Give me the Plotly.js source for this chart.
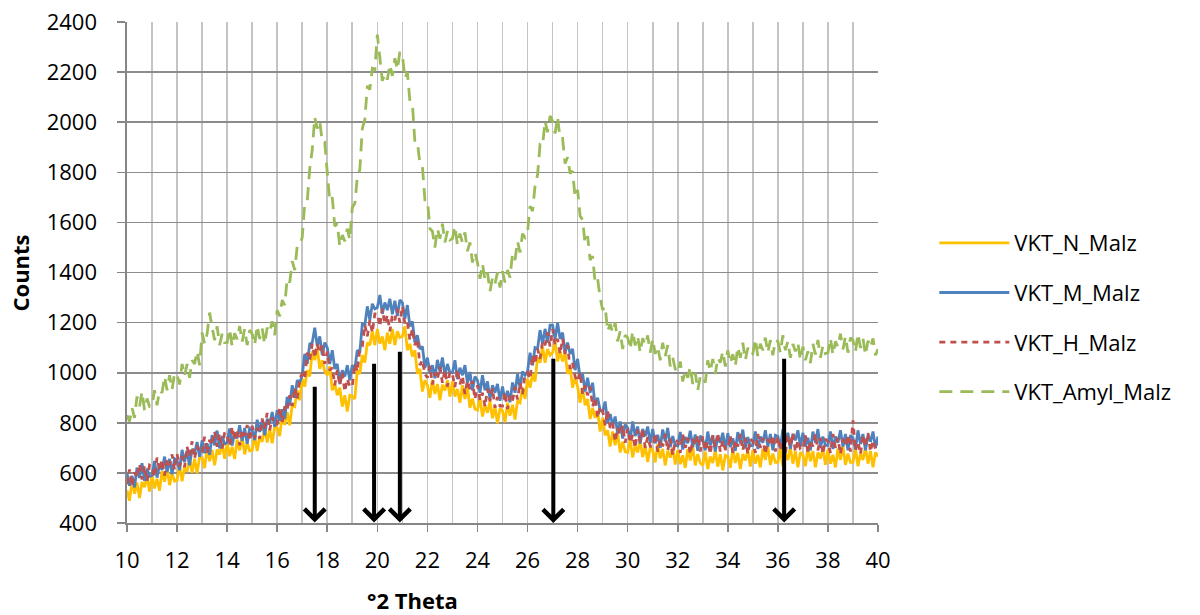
<!DOCTYPE html>
<html>
<head>
<meta charset="utf-8">
<script src="https://cdn.plot.ly/plotly-3.0.1.min.js"></script>
<style>html,body{margin:0;padding:0;background:#fff;}#chart{width:1200px;height:615px;}</style>
</head>
<body>
<div id="chart"></div>
<script>
// 2-theta sampling grid (instrument step)
const thetaStart = 10, thetaStep = 0.1;

const seriesNames = ["VKT_N_Malz", "VKT_M_Malz", "VKT_H_Malz", "VKT_Amyl_Malz"];

const VKT_N_Malz = [
530,489,568,517,561,500,564,543,587,526,
590,538,576,529,607,565,623,551,599,567,
570,631,567,623,604,660,601,657,598,664,
660,619,698,647,691,630,694,673,717,656,
720,667,704,656,733,690,747,674,721,688,
690,751,687,743,724,780,721,777,718,784,
780,747,834,791,843,790,870,865,930,890,
975,945,1010,985,1085,1050,1100,1015,1050,1005,
990,1025,930,955,910,940,865,910,845,910,
905,895,1010,995,1070,1040,1120,1110,1165,1110,
1175,1115,1145,1090,1160,1115,1175,1110,1165,1140,
1145,1185,1090,1115,1065,1090,995,1015,925,970,
950,900,972,915,955,890,952,929,970,905,
965,905,935,880,950,895,943,860,897,855,
850,900,825,870,840,886,818,865,798,857,
847,802,880,828,872,813,888,880,940,895,
975,940,995,965,1060,1040,1105,1040,1095,1070,
1080,1125,1045,1085,1045,1080,995,1025,940,980,
945,880,940,870,895,815,860,820,845,765,
820,750,770,705,765,710,760,682,724,685,
682,735,662,710,682,730,663,710,643,701,
689,642,715,658,696,630,688,661,700,633,
690,635,670,620,695,650,705,630,675,640,
630,685,615,665,640,690,625,675,610,670,
665,620,695,640,680,615,675,650,690,625,
692,637,672,622,697,652,707,632,677,642,
642,697,627,677,652,702,637,687,622,682,
672,627,702,647,687,622,682,657,697,632,
692,637,672,622,697,652,707,632,677,642,
642,697,627,677,652,702,637,687,622,682,
665];

const VKT_M_Malz = [
600,549,588,542,621,580,639,568,617,586,
590,648,581,634,612,665,603,656,594,657,
650,611,692,643,689,630,696,677,723,664,
730,679,718,672,751,710,769,698,747,716,
720,777,709,761,738,790,727,779,716,778,
770,731,812,763,809,750,816,797,843,784,
850,807,854,816,903,870,950,900,970,960,
990,1075,1035,1115,1120,1180,1105,1145,1070,1120,
1100,1035,1090,1015,1035,955,1010,985,1030,970,
1030,1015,1090,1080,1195,1190,1265,1210,1275,1255,
1260,1310,1235,1280,1250,1295,1233,1287,1226,1290,
1280,1215,1270,1185,1205,1120,1150,1095,1105,1020,
1060,1000,1030,978,1051,1005,1061,988,1035,1000,
1000,1050,975,1020,990,1030,960,1003,930,985,
970,920,990,930,965,895,950,920,955,888,
945,890,928,882,961,920,995,940,1005,990,
1005,1080,1030,1100,1095,1170,1115,1175,1120,1190,
1190,1135,1200,1135,1160,1080,1120,1075,1095,1010,
1055,980,995,925,980,920,960,870,900,850,
845,885,800,835,790,825,757,805,737,793,
780,733,805,747,785,717,775,747,785,718,
775,718,752,700,773,726,780,703,747,711,
708,763,693,743,718,768,703,753,688,748,
735,690,765,710,750,685,745,720,760,695,
758,703,738,688,763,718,773,698,743,708,
710,765,695,745,720,770,705,755,690,750,
745,700,775,720,760,695,755,730,770,705,
760,705,740,690,765,720,775,700,745,710,
710,765,695,745,720,770,705,755,690,750,
740,695,770,715,755,690,750,725,765,700,
745];

const VKT_H_Malz = [
555,614,548,602,581,635,574,628,567,631,
625,583,661,609,652,590,653,631,674,612,
675,626,667,623,704,665,726,657,708,679,
685,744,678,732,711,765,704,758,697,761,
750,707,784,731,773,710,772,749,791,728,
788,739,780,736,817,778,839,770,821,792,
795,861,803,865,850,910,867,940,895,980,
995,975,1080,1050,1115,1060,1115,1080,1110,1035,
1085,1010,1020,950,1010,950,1000,925,975,945,
945,1035,1005,1095,1105,1190,1145,1210,1160,1235,
1235,1185,1255,1195,1230,1165,1230,1210,1255,1200,
1265,1195,1205,1130,1175,1110,1135,1030,1050,995,
980,1027,953,1000,974,1024,960,1011,945,1004,
993,943,1012,953,987,915,968,935,967,895,
950,890,920,865,935,886,938,860,903,867,
867,922,855,908,887,943,893,960,915,995,
1000,975,1070,1035,1095,1055,1125,1110,1160,1105,
1175,1110,1135,1075,1135,1075,1110,1015,1040,985,
965,1000,915,950,910,945,865,900,820,865,
850,790,850,780,800,725,780,752,789,720,
777,720,752,700,772,725,778,700,743,706,
704,757,685,733,706,755,689,737,671,730,
725,680,755,700,740,675,735,710,750,685,
745,690,725,675,750,705,760,685,730,695,
695,750,680,730,705,755,690,740,675,735,
725,680,755,700,740,675,735,710,750,685,
745,690,725,675,750,705,760,685,730,695,
695,750,680,730,705,755,690,740,675,735,
725,680,755,700,740,675,735,710,750,685,
810,690,725,675,750,705,760,685,730,695,
715];

const VKT_Amyl_Malz = [
830,805,860,820,905,865,925,850,897,865,
868,930,870,930,920,985,930,990,932,998,
992,953,1035,987,1035,980,1050,1035,1085,1030,
1160,1115,1155,1240,1180,1130,1185,1110,1155,1120,
1120,1175,1105,1157,1134,1186,1123,1175,1110,1170,
1155,1110,1188,1135,1177,1115,1180,1160,1205,1150,
1250,1225,1290,1270,1375,1360,1445,1410,1505,1510,
1540,1675,1685,1815,1890,2020,1975,2005,1920,1920,
1800,1685,1700,1585,1595,1505,1550,1525,1575,1530,
1660,1675,1780,1810,1975,2010,2145,2130,2215,2210,
2350,2265,2165,2195,2170,2230,2185,2255,2210,2280,
2270,2175,2200,2085,2075,1920,1920,1835,1825,1690,
1690,1575,1565,1500,1575,1535,1595,1520,1565,1530,
1535,1585,1510,1555,1520,1560,1485,1520,1440,1480,
1440,1375,1435,1370,1400,1325,1380,1355,1400,1340,
1405,1360,1410,1380,1475,1450,1525,1480,1555,1540,
1560,1665,1645,1745,1790,1910,1905,2005,1960,2025,
2005,1955,2020,1935,1935,1835,1860,1795,1805,1700,
1730,1625,1610,1515,1545,1450,1465,1360,1375,1300,
1250,1265,1165,1195,1160,1200,1125,1165,1095,1150,
1140,1093,1166,1109,1147,1080,1138,1111,1149,1080,
1135,1075,1105,1050,1120,1065,1110,1025,1060,1015,
1000,1045,965,1010,980,1025,955,1000,930,985,
990,960,1050,1005,1055,995,1060,1040,1085,1025,
1090,1037,1074,1026,1103,1060,1120,1050,1100,1070,
1075,1135,1065,1115,1090,1140,1080,1130,1070,1130,
1125,1080,1150,1090,1125,1060,1115,1085,1120,1050,
1105,1050,1085,1038,1115,1073,1131,1060,1108,1076,
1080,1138,1071,1125,1103,1156,1093,1145,1080,1140,
1130,1083,1156,1099,1137,1070,1128,1100,1137,1070,
1095];

// Peak markers (arrows): 2-theta position, top and tip counts
const arrowTheta = [17.5, 19.87, 20.9, 27.03, 36.25];
const arrowTop   = [950, 1042, 1090, 1062, 1062];
const arrowTip   = [402, 402, 402, 400, 402];

const theta = VKT_N_Malz.map((_, i) => +(thetaStart + i * thetaStep).toFixed(2));

const colors = ["#FFC000", "#4F81BD", "#C0504D", "#9BBB59"];
const dashes = ["solid", "solid", "6px,5px", "13px,8px"];
const dataSets = [VKT_N_Malz, VKT_M_Malz, VKT_H_Malz, VKT_Amyl_Malz];

const FONT = "Open Sans, Noto Sans, Liberation Sans, sans-serif";

const traces = dataSets.map((ys, k) => ({
  type: "scatter",
  mode: "lines",
  x: theta,
  y: ys,
  name: seriesNames[k],
  legendgroup: "g" + k,
  line: { color: colors[k], width: 2.8, dash: dashes[k] }
}));

const annotations = arrowTheta.map((t, i) => ({
  x: t, y: arrowTip[i], xref: "x", yref: "y",
  ax: t, ay: arrowTop[i], axref: "x", ayref: "y",
  showarrow: true, arrowhead: 4, arrowsize: 1, arrowwidth: 4,
  arrowcolor: "#000000", text: "", standoff: 0, startstandoff: 0
}));

annotations.push({
  text: "<b>°2 Theta</b>", xref: "paper", yref: "paper",
  x: 0.3795, y: -0.154, xanchor: "center", yanchor: "middle",
  showarrow: false, font: { family: FONT, size: 22, color: "#000" }
});
annotations.push({
  text: "<b>Counts</b>", xref: "paper", yref: "paper",
  x: -0.1425, y: 0.5, xanchor: "center", yanchor: "middle", textangle: -90,
  showarrow: false, font: { family: FONT, size: 22, color: "#000" }
});

const layout = {
  width: 1200, height: 615, autosize: false,
  margin: { l: 127, r: 322, t: 22, b: 92, pad: 0 },
  paper_bgcolor: "#ffffff", plot_bgcolor: "#ffffff",
  font: { family: FONT, size: 22, color: "#000" },
  showlegend: true,
  legend: {
    x: 1.075, xanchor: "left", y: 0.41, yanchor: "middle",
    font: { family: FONT, size: 22, color: "#000" },
    tracegroupgap: 18, itemwidth: 70, bgcolor: "rgba(0,0,0,0)"
  },
  xaxis: {
    range: [10, 40], tick0: 10, dtick: 2,
    showgrid: true, gridcolor: "#C4C4C4", gridwidth: 1.6,
    minor: { dtick: 1, showgrid: true, gridcolor: "#C4C4C4", gridwidth: 1.6, ticks: "" },
    showline: true, linecolor: "#868686", linewidth: 1.6,
    ticks: "outside", ticklen: 7, tickwidth: 1.6, tickcolor: "#868686",
    zeroline: false, ticklabelstandoff: 10,
    tickfont: { family: FONT, size: 22, color: "#000" }
  },
  yaxis: {
    range: [400, 2400], tick0: 400, dtick: 200,
    showgrid: true, gridcolor: "#8C8C8C", gridwidth: 1.6,
    showline: true, linecolor: "#868686", linewidth: 1.6,
    ticks: "outside", ticklen: 8, tickwidth: 1.6, tickcolor: "#868686",
    zeroline: false, ticklabelstandoff: 16,
    tickfont: { family: FONT, size: 22, color: "#000" }
  },
  annotations: annotations
};

Plotly.newPlot("chart", traces, layout, { displayModeBar: false, staticPlot: true });
</script>
</body>
</html>
